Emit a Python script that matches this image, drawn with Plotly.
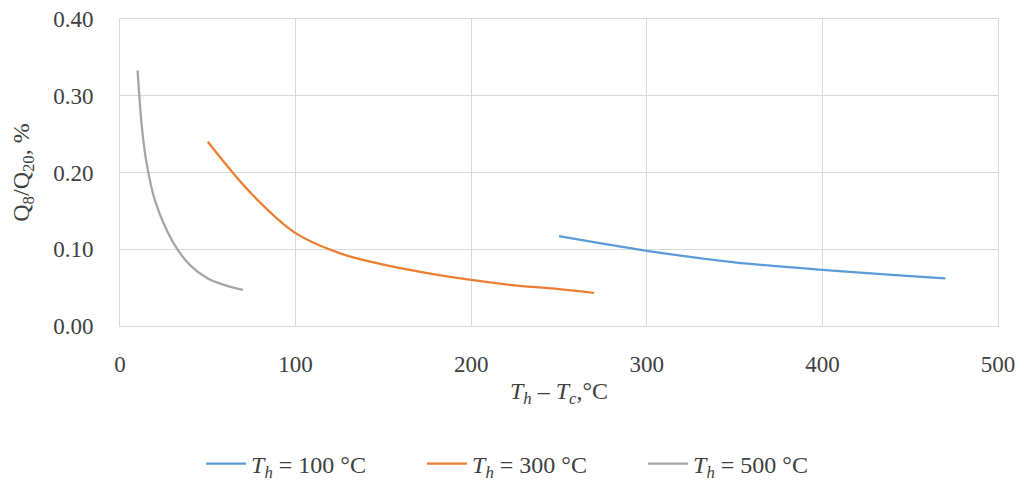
import plotly.graph_objects as go

# Data
x_100 = [250, 300, 350, 400, 450, 470]
y_100 = [0.117, 0.098, 0.083, 0.073, 0.065, 0.062]

x_300 = [50, 75, 100, 125, 150, 175, 200, 225, 250, 270]
y_300 = [0.240, 0.172, 0.121, 0.095, 0.080, 0.069, 0.060, 0.053, 0.048, 0.043]

x_500 = [10, 12.5, 15, 20, 30, 40, 50, 60, 70]
y_500 = [0.333, 0.258, 0.214, 0.163, 0.110, 0.079, 0.062, 0.053, 0.047]

names = ["<i>T<sub>h</sub></i> = 100 °C", "<i>T<sub>h</sub></i> = 300 °C", "<i>T<sub>h</sub></i> = 500 °C"]
colors = ["#5B9BD5", "#ED7D31", "#A5A5A5"]

x_ticks = [0, 100, 200, 300, 400, 500]
y_ticks = [0.0, 0.1, 0.2, 0.3, 0.4]

FONT = "Liberation Serif, Times New Roman, serif"
TXT = "#404040"
FS = 24
TFS = 23

fig = go.Figure()
for xs, ys, nm, c in zip([x_100, x_300, x_500], [y_100, y_300, y_500], names, colors):
    fig.add_trace(go.Scatter(x=xs, y=ys, mode="lines", name=nm,
                             line=dict(color=c, width=2.25, shape="spline", smoothing=1.0)))

# page body has an 8px margin, so the figure is sized to fit the 1024x486 window
fig.update_layout(
    width=1016, height=478,
    margin=dict(l=112, r=26, t=11, b=160, autoexpand=False),
    paper_bgcolor="white", plot_bgcolor="white",
    font=dict(family=FONT, size=FS, color=TXT),
    showlegend=True,
    legend=dict(orientation="h", xref="container", yref="container",
                x=0.19, xanchor="left", y=0.046, yanchor="middle",
                font=dict(family=FONT, size=FS, color=TXT),
                entrywidth=166, entrywidthmode="pixels",
                itemwidth=40, tracegroupgap=0),
)
fig.update_xaxes(range=[0, 500], tickvals=x_ticks, ticktext=[str(v) for v in x_ticks],
                 tickfont=dict(family=FONT, size=TFS, color=TXT),
                 showgrid=True, gridcolor="#D9D9D9", gridwidth=1,
                 showline=True, linecolor="#D9D9D9", mirror=True, zeroline=False,
                 ticks="outside", ticklen=0, ticklabelstandoff=17, automargin=False,
                 ticklabeloverflow="allow",
                 title=dict(text="<i>T<sub>h</sub></i> – <i>T<sub>c</sub></i>,°C",
                            font=dict(family=FONT, size=FS, color=TXT), standoff=6))
fig.update_yaxes(range=[0, 0.4], tickvals=y_ticks, ticktext=["%.2f" % v for v in y_ticks],
                 tickfont=dict(family=FONT, size=TFS, color=TXT),
                 showgrid=True, gridcolor="#D9D9D9", gridwidth=1,
                 showline=True, linecolor="#D9D9D9", mirror=True, zeroline=False,
                 ticks="outside", ticklen=0, ticklabelstandoff=21, automargin=False,
                 ticklabeloverflow="allow",
                 title=dict(text="Q<sub>8</sub>/Q<sub>20</sub>, %",
                            font=dict(family=FONT, size=FS, color=TXT), standoff=20))

fig.write_html("out.html")
